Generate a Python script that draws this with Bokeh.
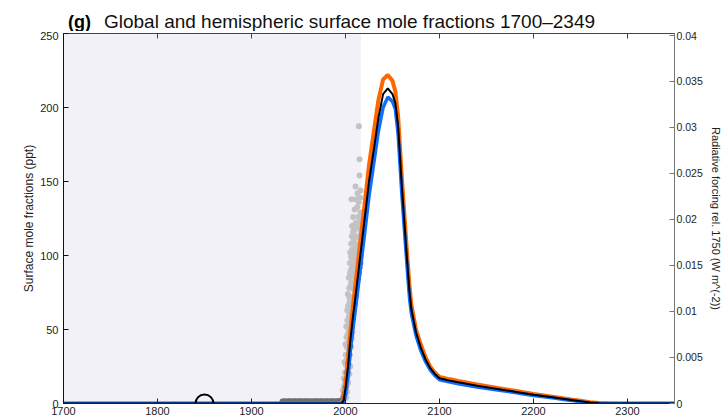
from bokeh.plotting import figure
from bokeh.layouts import column
from bokeh.models import (LinearAxis, Range1d, FixedTicker, BoxAnnotation,
                          CustomJSTickFormatter)
from bokeh.core.properties import value
from bokeh.embed import file_html
from bokeh.resources import INLINE

# ---------------- data ----------------
year = [1700, 1990, 1996, 1998, 2000, 2003, 2005, 2008, 2010, 2015, 2020, 2025, 2030,
        2035, 2040, 2045, 2050, 2053, 2056, 2060, 2065, 2068, 2070, 2075, 2080, 2085,
        2090, 2095, 2100, 2110, 2120, 2140, 2160, 2180, 2200, 2220, 2240, 2250, 2260,
        2270, 2280, 2300, 2350]
global_ppt = [0, 0, 0.2, 2, 10, 27, 42, 59, 69, 96, 123, 150, 171, 193, 209, 213, 209,
              203, 187, 146, 101, 76, 64, 48, 38, 30, 24, 20, 17, 15.5, 14.3, 12, 10, 8,
              5.9, 4.2, 2.4, 1.5, 0.6, 0.2, 0.05, 0, 0]
nh_ppt = [0, 0, 0.5, 3.5, 13, 32, 48, 66, 77, 105, 133, 161, 183, 205, 219, 222, 218,
          211, 194, 152, 106, 80, 67, 50, 40, 31.5, 25, 21, 18, 16.5, 15.2, 12.8, 10.7,
          8.6, 6.4, 4.6, 2.7, 1.8, 0.8, 0.3, 0.1, 0, 0]
sh_ppt = [0, 0, 0, 1, 6, 20, 35, 51, 61, 87, 113, 140, 162, 184, 200, 207, 204, 199,
          182, 141, 97, 72, 61, 46, 36, 28.5, 22.8, 19, 16, 14.6, 13.4, 11.2, 9.3, 7.4,
          5.4, 3.8, 2.1, 1.2, 0.4, 0.1, 0, 0, 0]

# observations: network means (dark) and individual station values (light)
obs_dark_year = [1933, 1935, 1937, 1939, 1941, 1943, 1945, 1947, 1949, 1951, 1953, 1955,
                 1957, 1959, 1961, 1963, 1965, 1967, 1969, 1971, 1973, 1975, 1977, 1979,
                 1981, 1983, 1985, 1987, 1989, 1991, 1993, 1995,
                 1996, 1997, 1998, 1999, 2000, 2001, 2002, 2003, 2004, 2005, 2006, 2007,
                 2008, 2009, 2010, 2011, 2012, 2013, 2014, 2015, 2015.8]
obs_dark_ppt = [1.3, 1.5, 1.4, 1.6, 1.5, 1.4, 1.6, 1.5, 1.3, 1.5, 1.6, 1.4, 1.5, 1.6,
                1.4, 1.5, 1.3, 1.6, 1.5, 1.4, 1.6, 1.5, 1.4, 1.5, 1.6, 1.4, 1.5, 1.6,
                1.4, 1.5, 1.7, 1.8,
                1, 2, 4, 7, 11, 16, 21, 27, 33, 39, 46, 52, 58, 63, 68, 73, 79, 84, 88,
                92, 95]
obs_light_year = [1996.5, 1997.5, 1998.5, 1997.2, 1998.8, 1999.6, 1998.3, 1999.4, 2000.6,
                  2001.2, 1999.0, 2000.3, 2001.6, 2002.5, 2000.0, 2001.0, 2002.3, 2003.6,
                  2004.2, 2000.8, 2002.0, 2003.2, 2004.5, 2005.6, 2001.8, 2002.8, 2004.0,
                  2005.3, 2006.8, 2007.6, 2002.5, 2003.9, 2005.0, 2006.5, 2008.0, 2009.2,
                  2003.5, 2004.8, 2006.2, 2007.5, 2009.0, 2010.5, 2011.5, 2004.6, 2006.0,
                  2007.4, 2008.8, 2010.3, 2011.8, 2013.0, 2006.0, 2007.2, 2008.6, 2010.0,
                  2011.6, 2013.2, 2014.5, 2008.2, 2009.5, 2011.0, 2012.4, 2013.8, 2015.2,
                  2016.3, 2006.4, 2010.6, 2012.4, 2014.9, 2016.0, 2016.0, 2014.9, 2014.2,
                  2013.5, 2015.4, 2016.6,
                  1999.5, 2000.5, 2001.5, 2002.5, 2003.5, 2004.5, 2005.5, 2006.5, 2007.5,
                  2008.5, 2009.8, 2011.3, 2012.8, 2014.0, 2015.5, 2013.6, 2012.0, 2010.8,
                  2009.0, 2014.6, 2016.2, 2015.8, 2016.5, 2000.3, 2001.0, 2002.0, 2003.0,
                  2002.8, 2001.8, 2000.8, 1999.2, 2003.5, 2004.5, 2005.0, 2004.0, 2005.8,
                  2006.5, 2003.0, 2003.8, 2006.3, 2007.3, 2005.0, 2006.8, 2008.2, 2004.0,
                  2007.5, 2009.0, 2010.2, 2005.6, 2007.8, 2009.6, 2011.0, 2012.5, 2005.0,
                  2006.8, 2008.0, 2009.4, 2011.0, 2012.4, 2014.0, 2010.6, 2012.0, 2014.0,
                  2007.0, 2008.0, 2016.0, 2014.5]
obs_light_ppt = [2, 5, 4, 9, 12, 8, 17, 21, 16, 22, 28, 33, 30, 27, 40, 45, 38, 36, 41,
                 52, 56, 50, 48, 47, 63, 66, 60, 58, 55, 57, 74, 78, 71, 69, 66, 68, 85,
                 88, 82, 79, 77, 76, 79, 95, 99, 92, 89, 87, 86, 88, 108, 104, 110, 100,
                 97, 95, 96, 126, 117, 113, 108, 104, 103, 106, 138, 146.6, 132.6, 154,
                 144, 129, 165, 187.4, 121, 118, 115,
                 14, 26, 38, 47, 58, 69, 80, 91, 101, 112, 131, 138, 142, 136, 139, 126,
                 120, 122, 112, 112, 124, 98, 100, 10, 12, 18, 24, 14, 8, 4, 3, 30, 33,
                 25, 20, 38, 44, 43, 54, 52, 48, 64, 62, 61, 72, 72, 72, 72, 90, 86, 82,
                 83, 82, 102, 113, 98, 94, 92, 92, 92, 105, 103, 100, 120, 116, 112, 122]

pi_year = [1850]          # pre-industrial reference marker
pi_ppt = [0]
obs_end_year = 2016.4     # end of observational period (shaded)

x_ticks = [1700, 1800, 1900, 2000, 2100, 2200, 2300]
y_ticks = [0, 50, 100, 150, 200, 250]
rf_ticks = [0, 0.005, 0.01, 0.015, 0.02, 0.025, 0.03, 0.035, 0.04]

panel_letter = "(g)"
title_text = "Global and hemispheric surface mole fractions 1700\u20132349"

FONT = "Liberation Sans"
W = 724
TITLE_H = 31
BL, BR = 63, 49            # borders around the plotting frame

# ---------------- title strip (frame is aligned with the main frame; pixel units) ----
t = figure(width=W, height=TITLE_H, x_range=Range1d(BL, W - BR),
           y_range=Range1d(0, TITLE_H), output_backend="svg", toolbar_location=None,
           x_axis_type=None, y_axis_type=None, min_border_left=BL, min_border_right=BR,
           min_border_top=0, min_border_bottom=0)
t.outline_line_color = None
t.xgrid.visible = False
t.ygrid.visible = False
t.text(x=[67.5], y=[10], text=[panel_letter], text_font=value(FONT),
       text_font_size="18px", text_font_style="bold", text_color="black",
       text_baseline="alphabetic", text_align="left")
t.text(x=[103.5], y=[10], text=[title_text], text_font=value(FONT),
       text_font_size="19px", text_color="#111111",
       text_baseline="alphabetic", text_align="left")

# ---------------- main plot ----------------
p = figure(width=W, height=420 - TITLE_H, x_range=Range1d(1700, 2350),
           y_range=Range1d(0, 250), output_backend="svg", toolbar_location=None,
           min_border_left=BL, min_border_right=BR, min_border_top=2,
           min_border_bottom=17)
p.extra_y_ranges = {"rf": Range1d(0, 0.0402)}
p.xgrid.visible = False
p.ygrid.visible = False
p.outline_line_color = None
p.background_fill_color = "white"

p.add_layout(BoxAnnotation(left=1700, right=obs_end_year, fill_color="#f2f1f7",
                           fill_alpha=1.0, line_color=None, level="underlay"))


def style_axis(ax, color="#222222", label_size="11px"):
    ax.major_tick_in = 5
    ax.major_tick_out = 0
    ax.minor_tick_line_color = None
    ax.axis_line_color = color
    ax.major_tick_line_color = color
    ax.major_label_text_font = FONT
    ax.major_label_text_font_size = label_size
    ax.major_label_text_color = "#222222"
    ax.axis_label_text_font = FONT
    ax.axis_label_text_font_style = "normal"
    ax.axis_label_text_color = "#222222"


xa = p.xaxis[0]
xa.ticker = FixedTicker(ticks=x_ticks)
style_axis(xa)
xa.major_label_standoff = 3

ya = p.yaxis[0]
ya.ticker = FixedTicker(ticks=y_ticks)
style_axis(ya, color="#111111")
ya.axis_label = "Surface mole fractions (ppt)"
ya.axis_label_text_font_size = "12px"
ya.axis_label_standoff = 1
ya.major_label_standoff = 5

top = LinearAxis(ticker=FixedTicker(ticks=x_ticks),
                 formatter=CustomJSTickFormatter(code="return ''"))
style_axis(top, color="#444444", label_size="0px")
top.major_label_standoff = 0
p.add_layout(top, "above")

ra = LinearAxis(y_range_name="rf", ticker=FixedTicker(ticks=rf_ticks),
                formatter=CustomJSTickFormatter(
                    code="return Number(tick.toFixed(3)).toString()"),
                axis_label="Radiative forcing rel. 1750 (W m^(-2))")
style_axis(ra, color="#777777", label_size="10.5px")
ra.major_label_standoff = 2
ra.axis_label_text_font_size = "11px"
ra.axis_label_standoff = 4
p.add_layout(ra, "right")

# observations
p.scatter(obs_light_year, obs_light_ppt, size=6, color="#c3c3c6", line_color=None)
p.scatter(obs_dark_year, obs_dark_ppt, size=6, color="#6e6e6e", line_color=None)

# model curves
p.line(year, nh_ppt, line_color="#ff6600", line_width=4)
p.line(year, sh_ppt, line_color="#0f6dff", line_width=3.5)
p.line(year, global_ppt, line_color="black", line_width=2)

p.scatter(pi_year, pi_ppt, marker="circle", size=18, fill_color=None,
          line_color="black", line_width=2)

layout = column(t, p, spacing=0)
open("out.html", "w").write(file_html(layout, INLINE))
